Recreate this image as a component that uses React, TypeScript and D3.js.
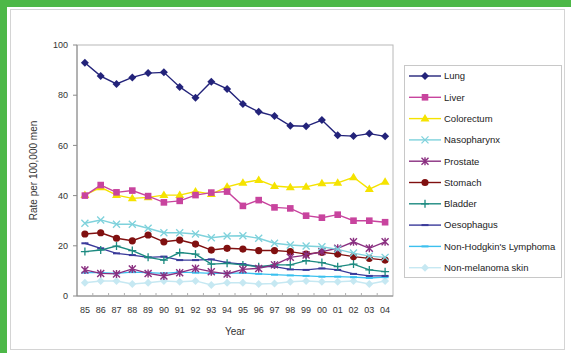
import React from 'react'
import { scaleBand, scaleLinear, line } from 'd3'

const years = ['85', '86', '87', '88', '89', '90', '91', '92', '93', '94', '95', '96', '97', '98', '99', '00', '01', '02', '03', '04']
const yTicks = [0, 20, 40, 60, 80, 100]

const lung = [92.9, 87.6, 84.5, 87.1, 88.8, 89.1, 83.3, 79.0, 85.4, 82.5, 76.5, 73.4, 71.7, 67.8, 67.6, 70.1, 64.0, 63.7, 64.7, 63.6]
const liver = [40.0, 44.2, 41.3, 42.0, 39.8, 37.3, 37.9, 40.2, 41.2, 41.6, 35.9, 38.2, 35.3, 34.9, 32.0, 31.2, 32.4, 30.0, 30.0, 29.4]
const colorectum = [40.2, 43.3, 40.2, 38.9, 39.3, 40.2, 40.2, 41.6, 40.6, 43.5, 45.1, 46.2, 43.8, 43.3, 43.5, 44.9, 45.1, 47.3, 42.6, 45.5]
const nasopharynx = [29.0, 30.3, 28.6, 28.6, 27.0, 25.2, 25.2, 24.7, 23.2, 23.9, 24.0, 23.0, 21.0, 20.3, 19.9, 19.6, 18.6, 17.1, 15.9, 15.4]
const prostate = [10.4, 9.0, 8.8, 10.8, 9.0, 8.0, 9.3, 11.0, 9.7, 8.8, 10.6, 11.0, 12.4, 15.4, 16.3, 17.7, 19.0, 21.6, 19.0, 21.6]
const stomach = [24.7, 25.2, 23.0, 22.0, 24.3, 21.6, 22.3, 20.7, 18.3, 19.0, 18.7, 18.1, 18.1, 17.7, 16.7, 17.4, 16.7, 15.7, 15.0, 14.3]
const bladder = [17.7, 18.3, 19.9, 18.1, 15.4, 14.3, 17.3, 16.7, 12.7, 13.0, 12.4, 11.7, 12.4, 12.4, 14.1, 13.3, 11.7, 12.7, 10.4, 9.7]
const oesophagus = [21.0, 19.0, 17.0, 16.3, 15.4, 15.7, 14.3, 14.3, 14.6, 13.3, 12.7, 11.7, 11.7, 10.6, 10.4, 11.0, 10.4, 8.8, 8.0, 8.0]
const nhl = [9.3, 9.3, 9.0, 9.5, 9.3, 9.0, 9.5, 9.3, 9.0, 9.0, 9.2, 8.8, 8.5, 8.2, 8.0, 7.7, 7.7, 7.5, 7.2, 7.5]
const skin = [5.3, 6.0, 6.0, 4.8, 5.3, 6.0, 5.7, 6.0, 4.4, 5.3, 5.3, 4.8, 5.0, 5.7, 6.0, 5.7, 5.7, 6.0, 4.8, 6.0]

const series = [
  { name: 'Lung', values: lung, color: '#23237a', marker: 'diamond' },
  { name: 'Liver', values: liver, color: '#c8449e', marker: 'square' },
  { name: 'Colorectum', values: colorectum, color: '#f5e300', marker: 'triangle' },
  { name: 'Nasopharynx', values: nasopharynx, color: '#7fd2dc', marker: 'x' },
  { name: 'Prostate', values: prostate, color: '#8a2f80', marker: 'star' },
  { name: 'Stomach', values: stomach, color: '#801010', marker: 'circle' },
  { name: 'Bladder', values: bladder, color: '#1c8a80', marker: 'plus' },
  { name: 'Oesophagus', values: oesophagus, color: '#3a3a9a', marker: 'dash' },
  { name: "Non-Hodgkin's Lymphoma", values: nhl, color: '#3cc0ee', marker: 'dash' },
  { name: 'Non-melanoma skin', values: skin, color: '#c6e8f2', marker: 'diamond' },
]

const width = 571
const height = 353
const plot = { left: 77, top: 45, right: 393, bottom: 296 }

function Marker({ type, x, y, color }: { type: string; x: number; y: number; color: string }) {
  switch (type) {
    case 'diamond':
      return <path d={`M${x},${y - 4}L${x + 4},${y}L${x},${y + 4}L${x - 4},${y}Z`} fill={color} />
    case 'square':
      return <rect x={x - 3.3} y={y - 3.3} width={6.6} height={6.6} fill={color} />
    case 'triangle':
      return <path d={`M${x},${y - 4.5}L${x + 4.5},${y + 3}L${x - 4.5},${y + 3}Z`} fill={color} />
    case 'circle':
      return <circle cx={x} cy={y} r={3.6} fill={color} />
    case 'x':
      return <path d={`M${x - 3.5},${y - 3.5}L${x + 3.5},${y + 3.5}M${x - 3.5},${y + 3.5}L${x + 3.5},${y - 3.5}`} stroke={color} strokeWidth={1.3} />
    case 'star':
      return <path d={`M${x - 3.5},${y - 3.5}L${x + 3.5},${y + 3.5}M${x - 3.5},${y + 3.5}L${x + 3.5},${y - 3.5}M${x},${y - 4}L${x},${y + 4}`} stroke={color} strokeWidth={1.4} />
    case 'plus':
      return <path d={`M${x - 4},${y}L${x + 4},${y}M${x},${y - 4}L${x},${y + 4}`} stroke={color} strokeWidth={1.3} />
    case 'dash':
      return <path d={`M${x - 3.5},${y}L${x + 3.5},${y}`} stroke={color} strokeWidth={2} />
    default:
      return null
  }
}

export default function App() {
  const x = scaleBand<string>().domain(years).range([plot.left, plot.right])
  const y = scaleLinear().domain([0, 100]).range([plot.bottom, plot.top])
  const cx = (d: string) => (x(d) as number) + x.bandwidth() / 2

  const lineGen = line<number>()
    .x((_, i) => cx(years[i]))
    .y(d => y(d))

  const font = 'Liberation Sans, Arial, sans-serif'
  const legendX = 404
  const legendY = 65
  const rowH = 21.3

  return (
    <svg width={width} height={height} style={{ position: 'fixed', left: 0, top: 0, background: '#fff' }} fontFamily={font}>
      <rect x={0} y={0} width={width} height={7} fill="#4db848" />
      <rect x={0} y={0} width={7} height={height} fill="#4db848" />
      <rect x={10.5} y={9.5} width={554} height={340} fill="#fff" stroke="#d4d4d4" />

      {/* plot frame */}
      <rect x={plot.left} y={plot.top} width={plot.right - plot.left} height={plot.bottom - plot.top} fill="#fff" stroke="#b8b8b8" />
      <line x1={plot.left} x2={plot.left} y1={plot.top} y2={plot.bottom} stroke="#8a8a8a" />
      <line x1={plot.left} x2={plot.right} y1={plot.bottom} y2={plot.bottom} stroke="#8a8a8a" />

      {yTicks.map(t => (
        <g key={t}>
          <line x1={plot.left - 4} x2={plot.left} y1={y(t)} y2={y(t)} stroke="#8a8a8a" />
          <text x={plot.left - 9} y={y(t)} dy=".35em" textAnchor="end" fontSize={9} fill="#333">{t}</text>
        </g>
      ))}

      {years.map((yr, i) => (
        <g key={yr}>
          {i > 0 && <line x1={x(yr)} x2={x(yr)} y1={plot.bottom} y2={plot.bottom - 3} stroke="#b0b0b0" />}
          <text x={cx(yr)} y={plot.bottom + 17} textAnchor="middle" fontSize={9} fill="#333">{yr}</text>
        </g>
      ))}

      <text x={(plot.left + plot.right) / 2} y={335} textAnchor="middle" fontSize={10} fill="#333">Year</text>
      <text transform={`translate(37,${(plot.top + plot.bottom) / 2}) rotate(-90)`} textAnchor="middle" fontSize={10} fill="#333">Rate per 100,000 men</text>

      {series.slice().reverse().map(s => (
        <g key={s.name}>
          <path d={lineGen(s.values) || ''} fill="none" stroke={s.color} strokeWidth={1.4} />
          {s.values.map((v, i) => (
            <Marker key={i} type={s.marker} x={cx(years[i])} y={y(v)} color={s.color} />
          ))}
        </g>
      ))}

      {/* legend */}
      <rect x={legendX + 0.5} y={legendY + 0.5} width={157} height={212} fill="#fff" stroke="#c8c8c8" />
      {series.map((s, i) => {
        const ly = legendY + 11 + i * rowH
        return (
          <g key={s.name}>
            <line x1={legendX + 5} x2={legendX + 37} y1={ly} y2={ly} stroke={s.color} strokeWidth={1.4} />
            <Marker type={s.marker} x={legendX + 21} y={ly} color={s.color} />
            <text x={legendX + 40} y={ly} dy=".35em" fontSize={9.5} fill="#222">{s.name}</text>
          </g>
        )
      })}
    </svg>
  )
}
